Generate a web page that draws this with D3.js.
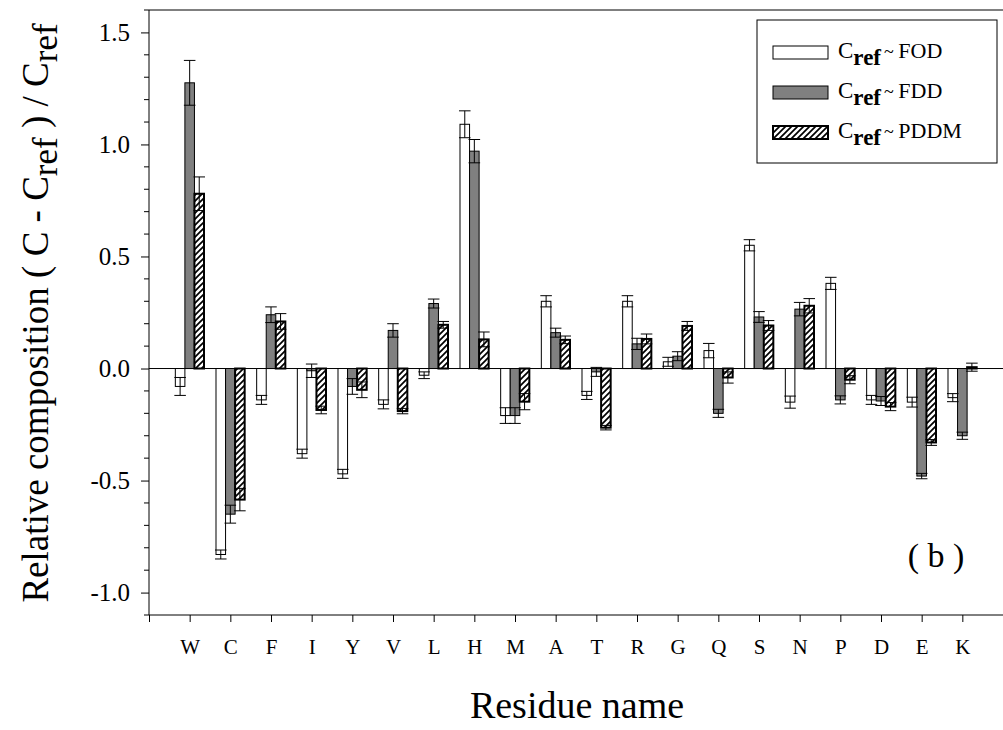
<!DOCTYPE html>
<html>
<head>
<meta charset="utf-8">
<script src="https://cdn.jsdelivr.net/npm/d3@7"></script>
<style>
  html, body { margin: 0; padding: 0; background: #fff; }
  svg { display: block; }
  svg text { font-family: "Liberation Serif", "Times New Roman", serif !important; }
</style>
</head>
<body>
<svg id="chart" width="1003" height="730"></svg>
<script>
// Residues and relative composition per reference set
const residues = ["W","C","F","I","Y","V","L","H","M","A","T","R","G","Q","S","N","P","D","E","K"];

const fod    = [-0.08, -0.83, -0.14, -0.38, -0.47, -0.16, -0.03, 1.09, -0.21, 0.30, -0.12, 0.30, 0.03, 0.08, 0.55, -0.15, 0.38, -0.14, -0.15, -0.13];
const fodErr = [0.04, 0.02, 0.02, 0.02, 0.02, 0.02, 0.015, 0.06, 0.035, 0.025, 0.018, 0.025, 0.02, 0.032, 0.025, 0.027, 0.027, 0.02, 0.022, 0.018];

const fdd    = [1.275, -0.65, 0.24, -0.01, -0.08, 0.17, 0.29, 0.97, -0.21, 0.16, -0.015, 0.11, 0.055, -0.20, 0.23, 0.265, -0.14, -0.145, -0.48, -0.30];
const fddErr = [0.10, 0.04, 0.035, 0.03, 0.035, 0.03, 0.02, 0.052, 0.035, 0.02, 0.02, 0.025, 0.02, 0.018, 0.024, 0.03, 0.018, 0.02, 0.012, 0.016];

const pddm    = [0.78, -0.585, 0.21, -0.185, -0.095, -0.19, 0.195, 0.13, -0.148, 0.128, -0.264, 0.132, 0.19, -0.04, 0.192, 0.28, -0.05, -0.17, -0.33, 0.006];
const pddmErr = [0.075, 0.05, 0.035, 0.017, 0.035, 0.012, 0.015, 0.033, 0.036, 0.017, 0.01, 0.022, 0.02, 0.025, 0.022, 0.032, 0.018, 0.018, 0.013, 0.018];

const seriesNames = ["FOD", "FDD", "PDDM"];
const yTickValues = [-1.0, -0.5, 0.0, 0.5, 1.0, 1.5];

const series = [
  { name: seriesNames[0], values: fod,  errors: fodErr,  fill: "#ffffff", stroke: "#000", sw: 1,   offset: -1 },
  { name: seriesNames[1], values: fdd,  errors: fddErr,  fill: "#808080", stroke: "#000", sw: 1,   offset: 0 },
  { name: seriesNames[2], values: pddm, errors: pddmErr, fill: "url(#hatch)", stroke: "#000", sw: 2, offset: 1 }
];

const svg = d3.select("#chart");
const serif = "Liberation Serif";

// hatch pattern for the PDDM bars
const defs = svg.append("defs");
const pat = defs.append("pattern")
  .attr("id", "hatch")
  .attr("patternUnits", "userSpaceOnUse")
  .attr("width", 6).attr("height", 6);
pat.append("rect").attr("width", 6).attr("height", 6).attr("fill", "#fff");
pat.append("path")
  .attr("d", "M-1,1 l2,-2 M0,6 l6,-6 M5,7 l2,-2")
  .attr("stroke", "#000").attr("stroke-width", 1.7);

const x = d3.scaleLinear().domain([0, 21]).range([149, 1003]);
const y = d3.scaleLinear().domain([-1.1, 1.6]).range([615, 10]);
const barW = 0.235; // in category units

// frame: top line
svg.append("line")
  .attr("x1", x(0)).attr("x2", x(21))
  .attr("y1", y(1.6)).attr("y2", y(1.6))
  .attr("stroke", "#000").attr("stroke-width", 1);

// y axis with major and minor ticks
const fmt = d3.format(".1f");
const yAxis = d3.axisLeft(y).tickValues(yTickValues)
  .tickFormat(d => fmt(d).replace("\u2212", "-")).tickSize(8).tickPadding(11);
const gy = svg.append("g").attr("transform", `translate(${x(0)},0)`).call(yAxis);
gy.attr("font-family", serif);
gy.select(".domain").remove();
gy.selectAll("text").attr("font-size", 25).attr("fill", "#000");
gy.selectAll("line").attr("stroke", "#000");
const minor = d3.range(-11, 17).map(d => d / 10).filter(v => !yTickValues.some(t => Math.abs(t - v) < 1e-9));
svg.append("g").selectAll("line").data(minor).join("line")
  .attr("x1", x(0) - 5).attr("x2", x(0))
  .attr("y1", d => y(d)).attr("y2", d => y(d))
  .attr("stroke", "#000");
svg.append("line")
  .attr("x1", x(0)).attr("x2", x(0))
  .attr("y1", y(1.6)).attr("y2", y(-1.1))
  .attr("stroke", "#000");

// x axis: ticks between 0 and 20, labels for residues
const xAxis = d3.axisBottom(x).tickValues(d3.range(0, 21)).tickSize(7)
  .tickFormat(d => d >= 1 && d <= 20 ? residues[d - 1] : "").tickPadding(17);
const gx = svg.append("g").attr("transform", `translate(0,${y(-1.1)})`).call(xAxis);
gx.attr("font-family", serif);
gx.select(".domain").attr("d", `M${x(0)},0H${x(21)}`).attr("stroke", "#000");
gx.selectAll("line").attr("stroke", "#000");
gx.selectAll("text").attr("font-size", 21).attr("fill", "#000");

// zero line
svg.append("line")
  .attr("x1", x(0)).attr("x2", x(21))
  .attr("y1", y(0)).attr("y2", y(0))
  .attr("stroke", "#000").attr("stroke-width", 1);

// bars
series.forEach(s => {
  const g = svg.append("g");
  g.selectAll("rect").data(s.values).join("rect")
    .attr("x", (d, i) => x(i + 1 + s.offset * barW - barW / 2))
    .attr("width", x(barW) - x(0))
    .attr("y", d => y(Math.max(0, d)))
    .attr("height", d => Math.abs(y(d) - y(0)))
    .attr("fill", s.fill)
    .attr("stroke", s.stroke)
    .attr("stroke-width", s.sw);
});

// error bars
series.forEach(s => {
  const g = svg.append("g").attr("stroke", "#000").attr("stroke-width", 1);
  s.values.forEach((v, i) => {
    const cx = x(i + 1 + s.offset * barW);
    const e = s.errors[i];
    const hw = (x(barW) - x(0)) / 2 + 1;
    g.append("line").attr("x1", cx).attr("x2", cx).attr("y1", y(v + e)).attr("y2", y(v - e));
    g.append("line").attr("x1", cx - hw).attr("x2", cx + hw).attr("y1", y(v + e)).attr("y2", y(v + e));
    g.append("line").attr("x1", cx - hw).attr("x2", cx + hw).attr("y1", y(v - e)).attr("y2", y(v - e));
  });
});

// legend
const lg = svg.append("g").attr("font-family", serif);
lg.append("rect").attr("x", 757).attr("y", 20).attr("width", 240).attr("height", 143)
  .attr("fill", "#fff").attr("stroke", "#000").attr("stroke-width", 1);
series.forEach((s, i) => {
  const ry = 46 + i * 40;
  lg.append("rect").attr("x", 773).attr("y", ry).attr("width", 55).attr("height", 13)
    .attr("fill", s.fill).attr("stroke", "#000").attr("stroke-width", s.sw);
  const t = lg.append("text").attr("x", 838).attr("y", ry + 12).attr("font-size", 23).attr("fill", "#000");
  t.append("tspan").text("C");
  t.append("tspan").attr("dy", 7).attr("font-size", 23).attr("font-weight", "bold").text("ref");
  t.append("tspan").attr("dy", -7).attr("dx", 3).attr("font-size", 18).text("~ ");
  t.append("tspan").attr("font-size", 22).text(s.name);
});

// panel tag
svg.append("text").attr("x", 936).attr("y", 567).attr("text-anchor", "middle")
  .attr("font-family", serif).attr("font-size", 34).attr("fill", "#000").text("( b )");

// axis titles
svg.append("text").attr("x", 577).attr("y", 718).attr("text-anchor", "middle")
  .attr("font-family", serif).attr("font-size", 38).attr("fill", "#000").text("Residue name");

const yl = svg.append("text")
  .attr("transform", "translate(48,313) rotate(-90)")
  .attr("text-anchor", "middle").attr("font-family", serif).attr("font-size", 37).attr("fill", "#000");
yl.append("tspan").text("Relative composition ( C - C");
yl.append("tspan").attr("dy", 9).attr("font-size", 35).text("ref");
yl.append("tspan").attr("dy", -9).text(" ) / C");
yl.append("tspan").attr("dy", 9).attr("font-size", 35).text("ref");
</script>
</body>
</html>
